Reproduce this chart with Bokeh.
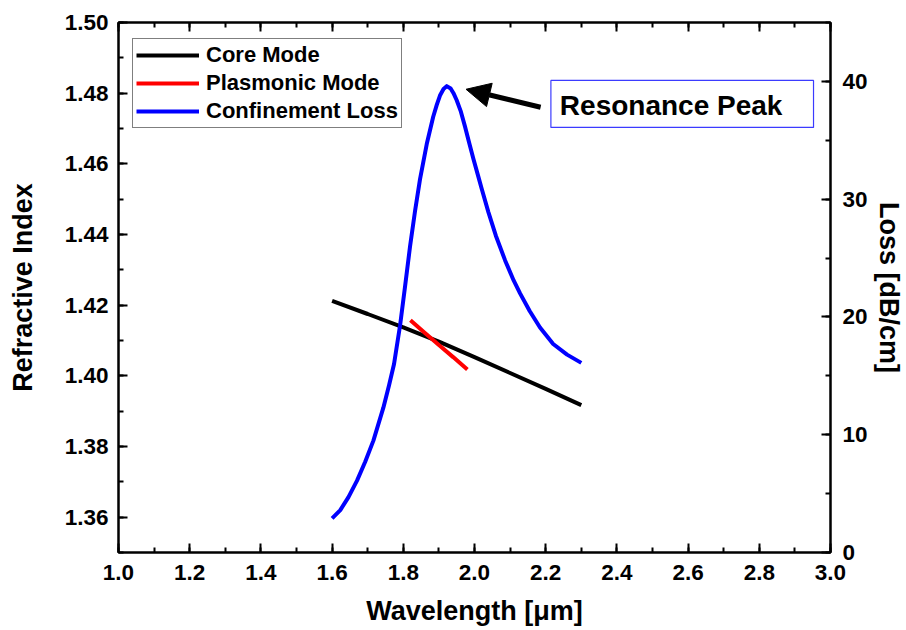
from bokeh.plotting import figure
from bokeh.models import (Range1d, LinearAxis, SingleIntervalTicker, NumeralTickFormatter,
                          BoxAnnotation, Label, Arrow, NormalHead)
from bokeh.embed import file_html
from bokeh.resources import INLINE

# ---------------- data ----------------
core_wl = [1.6, 1.7, 1.8, 1.9, 2.0, 2.1, 2.2, 2.3]
core_n = [1.4212, 1.4175, 1.4137, 1.4097, 1.4053, 1.4008, 1.3963, 1.3917]

plas_wl = [1.82, 1.86, 1.90, 1.94, 1.98]
plas_n = [1.4157, 1.4122, 1.4087, 1.4053, 1.4018]

loss_wl = [1.600, 1.623, 1.646, 1.670, 1.693, 1.716, 1.744, 1.760, 1.774, 1.791,
           1.805, 1.819, 1.833, 1.847, 1.866, 1.884, 1.894, 1.903, 1.913, 1.922,
           1.933, 1.941, 1.950, 1.961, 1.973, 1.985, 1.997, 2.010, 2.020, 2.039,
           2.060, 2.086, 2.110, 2.128, 2.155, 2.184, 2.221, 2.260, 2.300]
loss_db = [2.9, 3.6, 4.7, 6.1, 7.7, 9.5, 12.3, 14.2, 16.0, 19.3,
           22.6, 26.0, 29.0, 31.7, 34.7, 37.0, 38.0, 38.8, 39.35, 39.6,
           39.4, 39.0, 38.4, 37.5, 36.2, 34.8, 33.4, 32.0, 30.9, 28.9,
           26.9, 24.8, 23.1, 22.0, 20.5, 19.1, 17.7, 16.8, 16.1]

series_names = ["Core Mode", "Plasmonic Mode", "Confinement Loss"]
x_label = "Wavelength [μm]"
y_label = "Refractive Index"
y2_label = "Loss [dB/cm]"
note_text = "Resonance Peak"

# ---------------- figure ----------------
FONT = "Liberation Sans"

p = figure(width=906, height=630, x_range=Range1d(1.0, 3.0), y_range=Range1d(1.35, 1.50),
           output_backend="svg", toolbar_location=None,
           min_border_left=118, min_border_right=75, min_border_top=22, min_border_bottom=78,
           x_axis_label=x_label, y_axis_label=y_label)
p.extra_y_ranges = {"loss": Range1d(0, 45)}
p.grid.visible = False
p.outline_line_color = "black"
p.outline_line_width = 2
p.background_fill_color = "white"
p.border_fill_color = "white"

bottom_axis = p.below[0]
left_axis = p.left[0]
right_axis = LinearAxis(y_range_name="loss", axis_label=y2_label)
p.add_layout(right_axis, "right")
top_axis = LinearAxis()
p.add_layout(top_axis, "above")

for ax in (bottom_axis, top_axis):
    ax.ticker = SingleIntervalTicker(interval=0.2, num_minor_ticks=2)
    ax.formatter = NumeralTickFormatter(format="0.0")
left_axis.ticker = SingleIntervalTicker(interval=0.02, num_minor_ticks=2)
left_axis.formatter = NumeralTickFormatter(format="0.00")
right_axis.ticker = SingleIntervalTicker(interval=10, num_minor_ticks=2)

for ax in (bottom_axis, top_axis, left_axis, right_axis):
    ax.axis_line_width = 2
    ax.axis_line_color = "black"
    ax.major_tick_in = 9
    ax.major_tick_out = 0
    ax.minor_tick_in = 5
    ax.minor_tick_out = 0
    ax.major_tick_line_width = 2
    ax.minor_tick_line_width = 2
    ax.major_tick_line_color = "black"
    ax.minor_tick_line_color = "black"
    ax.major_label_text_font = FONT
    ax.major_label_text_font_style = "bold"
    ax.major_label_text_font_size = "22.5px"
    ax.major_label_text_color = "black"
    ax.axis_label_text_font = FONT
    ax.axis_label_text_font_style = "bold"
    ax.axis_label_text_font_size = "27px"
    ax.axis_label_text_color = "black"
    ax.major_label_standoff = 10

left_axis.axis_label_standoff = 24
bottom_axis.major_label_standoff = 12
bottom_axis.axis_label_standoff = 13
right_axis.major_label_standoff = 12
right_axis.axis_label_standoff = 3

top_axis.major_label_text_font_size = "0px"
top_axis.major_label_standoff = 0
top_axis.major_label_text_color = None
top_axis.axis_label_standoff = 0

# ---------------- series ----------------
p.line(core_wl, core_n, line_color="black", line_width=4, legend_label=series_names[0])
p.line(plas_wl, plas_n, line_color="#ff0000", line_width=4, legend_label=series_names[1])
p.line(loss_wl, loss_db, line_color="#0000ff", line_width=4, y_range_name="loss",
       line_join="round", legend_label=series_names[2])

lg = p.legend[0]
lg.location = (14, 424)
lg.border_line_color = "black"
lg.border_line_width = 1
lg.background_fill_alpha = 1
lg.label_text_font = FONT
lg.label_text_font_style = "bold"
lg.label_text_font_size = "22px"
lg.label_text_color = "black"
lg.padding = 3
lg.spacing = 2
lg.margin = 0
lg.glyph_width = 63
lg.glyph_height = 22
lg.label_height = 22
lg.label_standoff = 7

# ---------------- annotation ----------------
box = BoxAnnotation(left=2.2146, right=2.9523, bottom=1.4703, top=1.4836,
                    fill_color=None, fill_alpha=0, line_color="#3b3bff", line_alpha=1,
                    line_width=1.2)
p.add_layout(box)
p.add_layout(Label(x=2.2398, y=1.4765, text=note_text, text_font=FONT,
                   text_font_style="bold", text_font_size="28px", text_color="black",
                   text_baseline="alphabetic", text_align="left"))
p.add_layout(Arrow(x_start=2.1857, y_start=1.4760, x_end=1.9762, y_end=1.4811,
                   line_width=5, line_color="black",
                   end=NormalHead(size=24, fill_color="black", line_color="black")))

open("out.html", "w").write(file_html(p, INLINE))
